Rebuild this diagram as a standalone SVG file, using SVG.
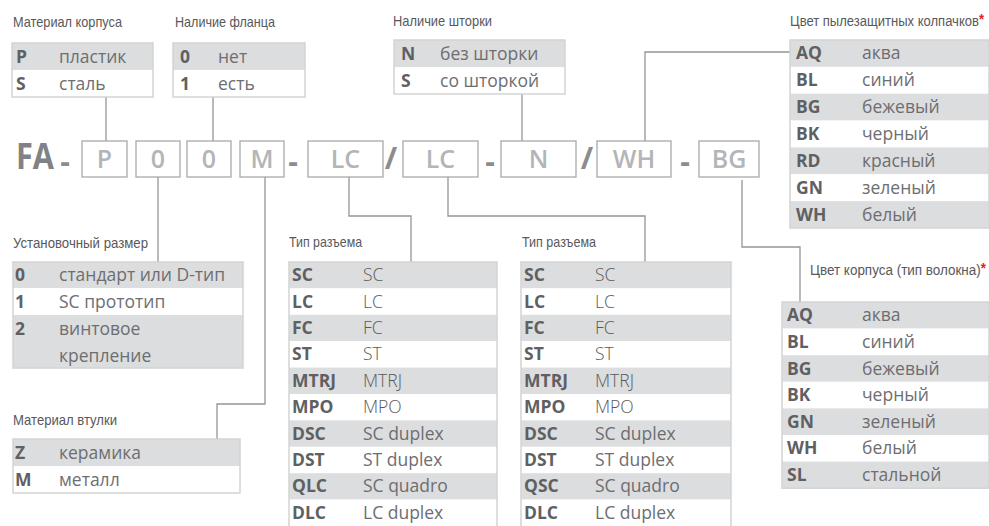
<svg xmlns="http://www.w3.org/2000/svg" width="989" height="526" viewBox="0 0 989 526">
<style>
.bg{fill:#ffffff}
.g{fill:#dcddde}
.w{fill:#ffffff}
.ol{fill:none;stroke:#d3d4d5;stroke-width:1.5}
.lbl{font-family:"Liberation Sans",Arial,sans-serif;font-size:15px;fill:#58595b}
.lbs{font-family:"Liberation Sans",Arial,sans-serif;font-size:14px;fill:#58595b}
.ast{fill:#e31e24;font-weight:bold}
.c{font-family:"Open Sans","Liberation Sans",sans-serif;font-size:17.5px;font-weight:bold;fill:#5f6062}
.d{font-family:"Open Sans","Liberation Sans",sans-serif;font-size:17.5px;fill:#6d6e71}
.dl{font-family:"Open Sans","Liberation Sans",sans-serif;font-size:17.5px;font-weight:300;fill:#58595b}
.box{fill:#ffffff;stroke:#a7a9ac;stroke-width:1.3}
.bt{font-family:"Open Sans","Liberation Sans",sans-serif;font-size:25px;font-weight:600;fill:#b3b5b7;text-anchor:middle}
.sep{font-family:"Open Sans","Liberation Sans",sans-serif;font-size:30px;font-weight:bold;fill:#8a8c8e;text-anchor:middle}
.fa{font-family:"Open Sans","Liberation Sans",sans-serif;font-size:36px;font-weight:bold;fill:#808285}
.ln{fill:none;stroke:#939598;stroke-width:1.3}
</style>
<rect class="bg" x="0" y="0" width="989" height="526"/>

<g id="connectors">
<path class="ln" d="M106,97 V141"/>
<path class="ln" d="M213,97 V141"/>
<path class="ln" d="M522,94 V141"/>
<path class="ln" d="M645,141 V52 H790"/>
<path class="ln" d="M158,177 V262"/>
<path class="ln" d="M265,177 V404 H217 V439"/>
<path class="ln" d="M349,177 V216 H411 V262"/>
<path class="ln" d="M448,177 V216 H645 V262"/>
<path class="ln" d="M742,180 V247 H800 V302"/>
</g>

<g id="code">
<text class="fa" x="16" y="169" textLength="38" lengthAdjust="spacingAndGlyphs">FA</text>
<text class="sep" x="65" y="172">-</text>
<rect class="box" x="82" y="141" width="45" height="36"/><text class="bt" x="104.5" y="168">P</text>
<rect class="box" x="136" y="141" width="44" height="36"/><text class="bt" x="158" y="168">0</text>
<rect class="box" x="187" y="141" width="44" height="36"/><text class="bt" x="209" y="168">0</text>
<rect class="box" x="240" y="141" width="44" height="36"/><text class="bt" x="262" y="168">M</text>
<text class="sep" x="293" y="172">-</text>
<rect class="box" x="308" y="141" width="75" height="36"/><text class="bt" x="345.5" y="168">LC</text>
<text class="sep" x="391" y="169">/</text>
<rect class="box" x="403" y="141" width="75" height="36"/><text class="bt" x="440.5" y="168">LC</text>
<text class="sep" x="490" y="172">-</text>
<rect class="box" x="501" y="141" width="75" height="36"/><text class="bt" x="538.5" y="168">N</text>
<text class="sep" x="587" y="169">/</text>
<rect class="box" x="597" y="141" width="74" height="36"/><text class="bt" x="634" y="168">WH</text>
<text class="sep" x="685" y="172">-</text>
<rect class="box" x="699" y="141" width="60" height="36"/><text class="bt" x="729" y="168">BG</text>
</g>

<g id="material-korpusa">
<text class="lbl" x="13" y="27" textLength="109" lengthAdjust="spacingAndGlyphs">Материал корпуса</text>
<rect class="g" x="12" y="43" width="141" height="27"/>
<rect class="w" x="12" y="70" width="141" height="27"/>
<rect class="ol" x="12" y="43" width="141" height="54"/>
<text class="c" x="16" y="62.5">P</text><text class="d" x="59" y="62.5">пластик</text>
<text class="c" x="16" y="89.5">S</text><text class="d" x="59" y="89.5">сталь</text>
</g>

<g id="flanec">
<text class="lbl" x="175" y="27" textLength="100" lengthAdjust="spacingAndGlyphs">Наличие фланца</text>
<rect class="g" x="173" y="43" width="132" height="27"/>
<rect class="w" x="173" y="70" width="132" height="27"/>
<rect class="ol" x="173" y="43" width="132" height="54"/>
<text class="c" x="180" y="62.5">0</text><text class="d" x="218" y="62.5">нет</text>
<text class="c" x="180" y="89.5">1</text><text class="d" x="218" y="89.5">есть</text>
</g>

<g id="shtorka">
<text class="lbl" x="393" y="26" textLength="99" lengthAdjust="spacingAndGlyphs">Наличие шторки</text>
<rect class="g" x="394" y="40" width="171" height="27"/>
<rect class="w" x="394" y="67" width="171" height="27"/>
<rect class="ol" x="394" y="40" width="171" height="54"/>
<text class="c" x="401" y="59.5">N</text><text class="d" x="440" y="59.5">без шторки</text>
<text class="c" x="401" y="86.5">S</text><text class="d" x="440" y="86.5">со шторкой</text>
</g>

<g id="kolpachki">
<text class="lbs" x="790" y="26" textLength="194" lengthAdjust="spacingAndGlyphs">Цвет пылезащитных колпачков<tspan class="ast" dy="-2">*</tspan></text>
<rect class="g" x="790" y="40" width="199" height="26.86"/>
<rect class="w" x="790" y="66.86" width="199" height="26.86"/>
<rect class="g" x="790" y="93.71" width="199" height="26.86"/>
<rect class="w" x="790" y="120.57" width="199" height="26.86"/>
<rect class="g" x="790" y="147.43" width="199" height="26.86"/>
<rect class="w" x="790" y="174.29" width="199" height="26.86"/>
<rect class="g" x="790" y="201.14" width="199" height="26.86"/>
<rect class="ol" x="790" y="40" width="199" height="188"/>
<text class="c" x="796" y="59.4">AQ</text><text class="d" x="862" y="59.4">аква</text>
<text class="c" x="796" y="86.3">BL</text><text class="d" x="862" y="86.3">синий</text>
<text class="c" x="796" y="113.1">BG</text><text class="d" x="862" y="113.1">бежевый</text>
<text class="c" x="796" y="140">BK</text><text class="d" x="862" y="140">черный</text>
<text class="c" x="796" y="166.9">RD</text><text class="d" x="862" y="166.9">красный</text>
<text class="c" x="796" y="193.7">GN</text><text class="d" x="862" y="193.7">зеленый</text>
<text class="c" x="796" y="220.6">WH</text><text class="d" x="862" y="220.6">белый</text>
</g>

<g id="ustanovochny">
<text class="lbl" x="13" y="248" textLength="135" lengthAdjust="spacingAndGlyphs">Установочный размер</text>
<rect class="g" x="13" y="262" width="230" height="26"/>
<rect class="w" x="13" y="288" width="230" height="27"/>
<rect class="g" x="13" y="315" width="230" height="53"/>
<rect class="ol" x="13" y="262" width="230" height="106"/>
<text class="c" x="15" y="281">0</text><text class="d" x="59" y="281">стандарт или D-тип</text>
<text class="c" x="15" y="307.5">1</text><text class="d" x="59" y="307.5">SC прототип</text>
<text class="c" x="15" y="335">2</text><text class="d" x="59" y="335">винтовое</text>
<text class="d" x="59" y="362">крепление</text>
</g>

<g id="vtulka">
<text class="lbl" x="13" y="425" textLength="104" lengthAdjust="spacingAndGlyphs">Материал втулки</text>
<rect class="g" x="13" y="439" width="227" height="27"/>
<rect class="w" x="13" y="466" width="227" height="27"/>
<rect class="ol" x="13" y="439" width="227" height="54"/>
<text class="c" x="15" y="458.5">Z</text><text class="d" x="59" y="458.5">керамика</text>
<text class="c" x="15" y="485.5">M</text><text class="d" x="59" y="485.5">металл</text>
</g>

<g id="razem-1">
<text class="lbl" x="289" y="247" textLength="73" lengthAdjust="spacingAndGlyphs">Тип разъема</text>
<rect class="g" x="289" y="262" width="208" height="26.4"/>
<rect class="w" x="289" y="288.4" width="208" height="26.4"/>
<rect class="g" x="289" y="314.8" width="208" height="26.4"/>
<rect class="w" x="289" y="341.2" width="208" height="26.4"/>
<rect class="g" x="289" y="367.6" width="208" height="26.4"/>
<rect class="w" x="289" y="394" width="208" height="26.4"/>
<rect class="g" x="289" y="420.4" width="208" height="26.4"/>
<rect class="w" x="289" y="446.8" width="208" height="26.4"/>
<rect class="g" x="289" y="473.2" width="208" height="26.4"/>
<rect class="w" x="289" y="499.6" width="208" height="26.4"/>
<rect class="ol" x="289" y="262" width="208" height="270"/>
<text class="c" x="292" y="281.2">SC</text><text class="dl" x="363" y="281.2">SC</text>
<text class="c" x="292" y="307.6">LC</text><text class="dl" x="363" y="307.6">LC</text>
<text class="c" x="292" y="334">FC</text><text class="dl" x="363" y="334">FC</text>
<text class="c" x="292" y="360.4">ST</text><text class="dl" x="363" y="360.4">ST</text>
<text class="c" x="292" y="386.8">MTRJ</text><text class="dl" x="363" y="386.8">MTRJ</text>
<text class="c" x="292" y="413.2">MPO</text><text class="dl" x="363" y="413.2">MPO</text>
<text class="c" x="292" y="439.6">DSC</text><text class="d" x="363" y="439.6">SC duplex</text>
<text class="c" x="292" y="466">DST</text><text class="d" x="363" y="466">ST duplex</text>
<text class="c" x="292" y="492.4">QLC</text><text class="d" x="363" y="492.4">SC quadro</text>
<text class="c" x="292" y="518.8">DLC</text><text class="d" x="363" y="518.8">LC duplex</text>
</g>

<g id="razem-2">
<text class="lbl" x="522" y="247" textLength="74" lengthAdjust="spacingAndGlyphs">Тип разъема</text>
<rect class="g" x="521" y="262" width="210" height="26.4"/>
<rect class="w" x="521" y="288.4" width="210" height="26.4"/>
<rect class="g" x="521" y="314.8" width="210" height="26.4"/>
<rect class="w" x="521" y="341.2" width="210" height="26.4"/>
<rect class="g" x="521" y="367.6" width="210" height="26.4"/>
<rect class="w" x="521" y="394" width="210" height="26.4"/>
<rect class="g" x="521" y="420.4" width="210" height="26.4"/>
<rect class="w" x="521" y="446.8" width="210" height="26.4"/>
<rect class="g" x="521" y="473.2" width="210" height="26.4"/>
<rect class="w" x="521" y="499.6" width="210" height="26.4"/>
<rect class="ol" x="521" y="262" width="210" height="270"/>
<text class="c" x="524" y="281.2">SC</text><text class="dl" x="595" y="281.2">SC</text>
<text class="c" x="524" y="307.6">LC</text><text class="dl" x="595" y="307.6">LC</text>
<text class="c" x="524" y="334">FC</text><text class="dl" x="595" y="334">FC</text>
<text class="c" x="524" y="360.4">ST</text><text class="dl" x="595" y="360.4">ST</text>
<text class="c" x="524" y="386.8">MTRJ</text><text class="dl" x="595" y="386.8">MTRJ</text>
<text class="c" x="524" y="413.2">MPO</text><text class="dl" x="595" y="413.2">MPO</text>
<text class="c" x="524" y="439.6">DSC</text><text class="d" x="595" y="439.6">SC duplex</text>
<text class="c" x="524" y="466">DST</text><text class="d" x="595" y="466">ST duplex</text>
<text class="c" x="524" y="492.4">QSC</text><text class="d" x="595" y="492.4">SC quadro</text>
<text class="c" x="524" y="518.8">DLC</text><text class="d" x="595" y="518.8">LC duplex</text>
</g>

<g id="cvet-korpusa">
<text class="lbs" x="810" y="275" textLength="176" lengthAdjust="spacingAndGlyphs">Цвет корпуса (тип волокна)<tspan class="ast" dy="-2">*</tspan></text>
<rect class="g" x="782" y="302" width="207" height="26.6"/>
<rect class="w" x="782" y="328.6" width="207" height="26.6"/>
<rect class="g" x="782" y="355.2" width="207" height="26.6"/>
<rect class="w" x="782" y="381.8" width="207" height="26.6"/>
<rect class="g" x="782" y="408.4" width="207" height="26.6"/>
<rect class="w" x="782" y="435" width="207" height="26.6"/>
<rect class="g" x="782" y="461.6" width="207" height="26.6"/>
<rect class="ol" x="782" y="302" width="207" height="186.2"/>
<text class="c" x="787" y="321.3">AQ</text><text class="d" x="862" y="321.3">аква</text>
<text class="c" x="787" y="347.9">BL</text><text class="d" x="862" y="347.9">синий</text>
<text class="c" x="787" y="374.5">BG</text><text class="d" x="862" y="374.5">бежевый</text>
<text class="c" x="787" y="401.1">BK</text><text class="d" x="862" y="401.1">черный</text>
<text class="c" x="787" y="427.7">GN</text><text class="d" x="862" y="427.7">зеленый</text>
<text class="c" x="787" y="454.3">WH</text><text class="d" x="862" y="454.3">белый</text>
<text class="c" x="787" y="480.9">SL</text><text class="d" x="862" y="480.9">стальной</text>
</g>
</svg>
